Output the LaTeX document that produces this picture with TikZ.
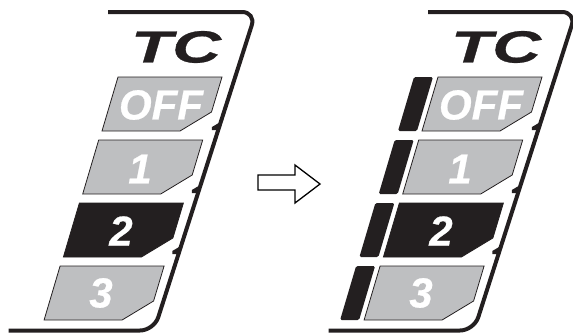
\documentclass[tikz,border=0pt]{standalone}
\usepackage{fontspec}
\usepackage{graphicx}
\usepackage{tikz}
\newfontfamily\keyfont[FakeBold=0.6]{Liberation Sans}
\newfontfamily\tcfont[FakeBold=0.6]{Liberation Sans}
\definecolor{keygray}{RGB}{190,191,193}
\definecolor{keyblack}{RGB}{35,31,32}
\tikzset{
  shell/.style={draw=keyblack,line width=4pt,rounded corners=14pt},
  keyface/.style={draw=keyblack,line width=0.8pt,fill=keygray},
  keydark/.style={draw=keyblack,line width=0.8pt,fill=keyblack},
  keybar/.style={fill=keyblack,rounded corners=1.5pt},
  keytext/.style={inner sep=0pt,text=white,font=\keyfont\bfseries\itshape\fontsize{42}{42}\selectfont},
  tctext/.style={inner sep=0pt,text=keyblack,font=\tcfont\bfseries\itshape\fontsize{45}{45}\selectfont},
}
\newcommand{\tckey}[3]{%
  \draw[#3] (#1,#2) -- ++(104,0) -- ++(-10.5,35) -- ++(-31.5,19) -- ++(-78,0) -- cycle;}
\newcommand{\tcbar}[2]{%
  \fill[keybar] (#1-24,#2) -- (#1-5,#2) -- ++(-16,54) -- ++(-19,0) -- cycle;}
\newcommand{\tcpanel}[1]{%
  \draw[shell] (108,12) -- (256,12) -- (154,330.5) -- (8.5,330.5);
  \foreach \ny in {127,190,251}{
    \pgfmathsetmacro{\nx}{250-0.32*(\ny-30)}
    \fill[keyblack] (\nx+1.5,\ny-5) -- (\nx-7,\ny) -- (\nx-7,\ny+3) -- (\nx+1,\ny+3) -- cycle;}
  \tckey{118}{77}{keyface}
  \tckey{98.7}{140}{keyface}
  \tckey{79.4}{203}{keydark}
  \tckey{60.1}{266}{keyface}
  \node[tctext] (#1-tc) at (176,47) {\scalebox{1.5}[1]{TC}};
  \node[keytext] (#1-off) at (161,105) {OFF};
  \node[keytext] (#1-one) at (140,169) {1};
  \node[keytext] (#1-two) at (121,231) {2};
  \node[keytext] (#1-three) at (101,293) {3};
}

\begin{document}
\begin{tikzpicture}[x=1pt,y=-1pt]
  \useasboundingbox (0,0) rectangle (573,335);
  \begin{scope}
    \tcpanel{L}
  \end{scope}
  \draw[line width=1.3pt,fill=white] (258,175) -- (295,175) -- (295,165) -- (320,184)
    -- (295,203) -- (295,190) -- (258,190) -- cycle;
  \begin{scope}[xshift=320pt]
    \tcbar{118}{77}
    \tcbar{98.7}{140}
    \tcbar{79.4}{203}
    \tcbar{60.1}{266}
    \tcpanel{R}
  \end{scope}
\end{tikzpicture}
\end{document}
